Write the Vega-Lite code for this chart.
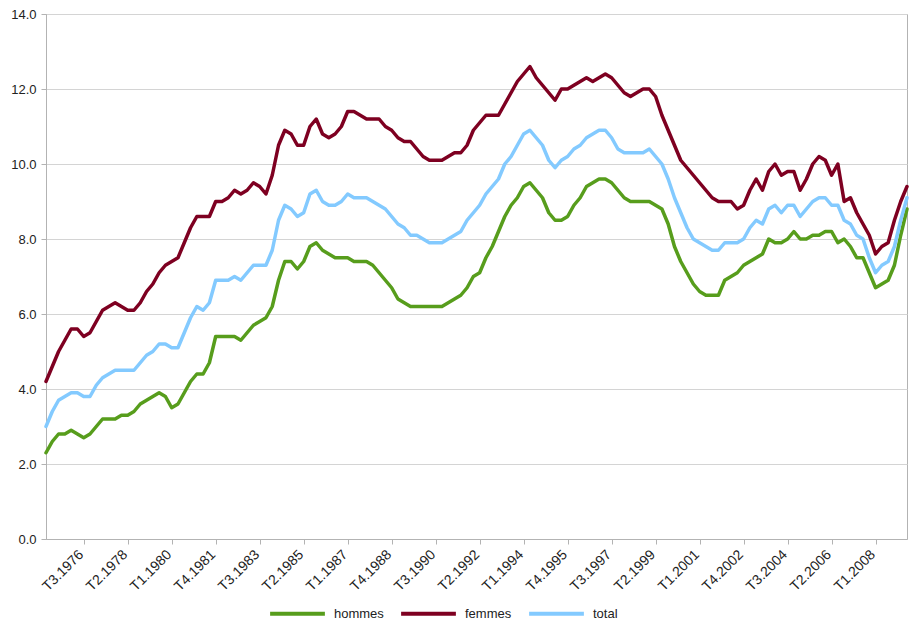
{
  "$schema": "https://vega.github.io/schema/vega-lite/v6.json",
  "width": 861,
  "height": 525,
  "autosize": {"type": "none"},
  "padding": {"left": 46, "top": 14, "right": 6, "bottom": 87},
  "background": "white",
  "data": {
    "values": [
      {"t": "T1.1975", "hommes": 2.3, "femmes": 4.2, "total": 3.0},
      {"t": "T2.1975", "hommes": 2.6, "femmes": 4.6, "total": 3.4},
      {"t": "T3.1975", "hommes": 2.8, "femmes": 5.0, "total": 3.7},
      {"t": "T4.1975", "hommes": 2.8, "femmes": 5.3, "total": 3.8},
      {"t": "T1.1976", "hommes": 2.9, "femmes": 5.6, "total": 3.9},
      {"t": "T2.1976", "hommes": 2.8, "femmes": 5.6, "total": 3.9},
      {"t": "T3.1976", "hommes": 2.7, "femmes": 5.4, "total": 3.8},
      {"t": "T4.1976", "hommes": 2.8, "femmes": 5.5, "total": 3.8},
      {"t": "T1.1977", "hommes": 3.0, "femmes": 5.8, "total": 4.1},
      {"t": "T2.1977", "hommes": 3.2, "femmes": 6.1, "total": 4.3},
      {"t": "T3.1977", "hommes": 3.2, "femmes": 6.2, "total": 4.4},
      {"t": "T4.1977", "hommes": 3.2, "femmes": 6.3, "total": 4.5},
      {"t": "T1.1978", "hommes": 3.3, "femmes": 6.2, "total": 4.5},
      {"t": "T2.1978", "hommes": 3.3, "femmes": 6.1, "total": 4.5},
      {"t": "T3.1978", "hommes": 3.4, "femmes": 6.1, "total": 4.5},
      {"t": "T4.1978", "hommes": 3.6, "femmes": 6.3, "total": 4.7},
      {"t": "T1.1979", "hommes": 3.7, "femmes": 6.6, "total": 4.9},
      {"t": "T2.1979", "hommes": 3.8, "femmes": 6.8, "total": 5.0},
      {"t": "T3.1979", "hommes": 3.9, "femmes": 7.1, "total": 5.2},
      {"t": "T4.1979", "hommes": 3.8, "femmes": 7.3, "total": 5.2},
      {"t": "T1.1980", "hommes": 3.5, "femmes": 7.4, "total": 5.1},
      {"t": "T2.1980", "hommes": 3.6, "femmes": 7.5, "total": 5.1},
      {"t": "T3.1980", "hommes": 3.9, "femmes": 7.9, "total": 5.5},
      {"t": "T4.1980", "hommes": 4.2, "femmes": 8.3, "total": 5.9},
      {"t": "T1.1981", "hommes": 4.4, "femmes": 8.6, "total": 6.2},
      {"t": "T2.1981", "hommes": 4.4, "femmes": 8.6, "total": 6.1},
      {"t": "T3.1981", "hommes": 4.7, "femmes": 8.6, "total": 6.3},
      {"t": "T4.1981", "hommes": 5.4, "femmes": 9.0, "total": 6.9},
      {"t": "T1.1982", "hommes": 5.4, "femmes": 9.0, "total": 6.9},
      {"t": "T2.1982", "hommes": 5.4, "femmes": 9.1, "total": 6.9},
      {"t": "T3.1982", "hommes": 5.4, "femmes": 9.3, "total": 7.0},
      {"t": "T4.1982", "hommes": 5.3, "femmes": 9.2, "total": 6.9},
      {"t": "T1.1983", "hommes": 5.5, "femmes": 9.3, "total": 7.1},
      {"t": "T2.1983", "hommes": 5.7, "femmes": 9.5, "total": 7.3},
      {"t": "T3.1983", "hommes": 5.8, "femmes": 9.4, "total": 7.3},
      {"t": "T4.1983", "hommes": 5.9, "femmes": 9.2, "total": 7.3},
      {"t": "T1.1984", "hommes": 6.2, "femmes": 9.7, "total": 7.7},
      {"t": "T2.1984", "hommes": 6.9, "femmes": 10.5, "total": 8.5},
      {"t": "T3.1984", "hommes": 7.4, "femmes": 10.9, "total": 8.9},
      {"t": "T4.1984", "hommes": 7.4, "femmes": 10.8, "total": 8.8},
      {"t": "T1.1985", "hommes": 7.2, "femmes": 10.5, "total": 8.6},
      {"t": "T2.1985", "hommes": 7.4, "femmes": 10.5, "total": 8.7},
      {"t": "T3.1985", "hommes": 7.8, "femmes": 11.0, "total": 9.2},
      {"t": "T4.1985", "hommes": 7.9, "femmes": 11.2, "total": 9.3},
      {"t": "T1.1986", "hommes": 7.7, "femmes": 10.8, "total": 9.0},
      {"t": "T2.1986", "hommes": 7.6, "femmes": 10.7, "total": 8.9},
      {"t": "T3.1986", "hommes": 7.5, "femmes": 10.8, "total": 8.9},
      {"t": "T4.1986", "hommes": 7.5, "femmes": 11.0, "total": 9.0},
      {"t": "T1.1987", "hommes": 7.5, "femmes": 11.4, "total": 9.2},
      {"t": "T2.1987", "hommes": 7.4, "femmes": 11.4, "total": 9.1},
      {"t": "T3.1987", "hommes": 7.4, "femmes": 11.3, "total": 9.1},
      {"t": "T4.1987", "hommes": 7.4, "femmes": 11.2, "total": 9.1},
      {"t": "T1.1988", "hommes": 7.3, "femmes": 11.2, "total": 9.0},
      {"t": "T2.1988", "hommes": 7.1, "femmes": 11.2, "total": 8.9},
      {"t": "T3.1988", "hommes": 6.9, "femmes": 11.0, "total": 8.8},
      {"t": "T4.1988", "hommes": 6.7, "femmes": 10.9, "total": 8.6},
      {"t": "T1.1989", "hommes": 6.4, "femmes": 10.7, "total": 8.4},
      {"t": "T2.1989", "hommes": 6.3, "femmes": 10.6, "total": 8.3},
      {"t": "T3.1989", "hommes": 6.2, "femmes": 10.6, "total": 8.1},
      {"t": "T4.1989", "hommes": 6.2, "femmes": 10.4, "total": 8.1},
      {"t": "T1.1990", "hommes": 6.2, "femmes": 10.2, "total": 8.0},
      {"t": "T2.1990", "hommes": 6.2, "femmes": 10.1, "total": 7.9},
      {"t": "T3.1990", "hommes": 6.2, "femmes": 10.1, "total": 7.9},
      {"t": "T4.1990", "hommes": 6.2, "femmes": 10.1, "total": 7.9},
      {"t": "T1.1991", "hommes": 6.3, "femmes": 10.2, "total": 8.0},
      {"t": "T2.1991", "hommes": 6.4, "femmes": 10.3, "total": 8.1},
      {"t": "T3.1991", "hommes": 6.5, "femmes": 10.3, "total": 8.2},
      {"t": "T4.1991", "hommes": 6.7, "femmes": 10.5, "total": 8.5},
      {"t": "T1.1992", "hommes": 7.0, "femmes": 10.9, "total": 8.7},
      {"t": "T2.1992", "hommes": 7.1, "femmes": 11.1, "total": 8.9},
      {"t": "T3.1992", "hommes": 7.5, "femmes": 11.3, "total": 9.2},
      {"t": "T4.1992", "hommes": 7.8, "femmes": 11.3, "total": 9.4},
      {"t": "T1.1993", "hommes": 8.2, "femmes": 11.3, "total": 9.6},
      {"t": "T2.1993", "hommes": 8.6, "femmes": 11.6, "total": 10.0},
      {"t": "T3.1993", "hommes": 8.9, "femmes": 11.9, "total": 10.2},
      {"t": "T4.1993", "hommes": 9.1, "femmes": 12.2, "total": 10.5},
      {"t": "T1.1994", "hommes": 9.4, "femmes": 12.4, "total": 10.8},
      {"t": "T2.1994", "hommes": 9.5, "femmes": 12.6, "total": 10.9},
      {"t": "T3.1994", "hommes": 9.3, "femmes": 12.3, "total": 10.7},
      {"t": "T4.1994", "hommes": 9.1, "femmes": 12.1, "total": 10.5},
      {"t": "T1.1995", "hommes": 8.7, "femmes": 11.9, "total": 10.1},
      {"t": "T2.1995", "hommes": 8.5, "femmes": 11.7, "total": 9.9},
      {"t": "T3.1995", "hommes": 8.5, "femmes": 12.0, "total": 10.1},
      {"t": "T4.1995", "hommes": 8.6, "femmes": 12.0, "total": 10.2},
      {"t": "T1.1996", "hommes": 8.9, "femmes": 12.1, "total": 10.4},
      {"t": "T2.1996", "hommes": 9.1, "femmes": 12.2, "total": 10.5},
      {"t": "T3.1996", "hommes": 9.4, "femmes": 12.3, "total": 10.7},
      {"t": "T4.1996", "hommes": 9.5, "femmes": 12.2, "total": 10.8},
      {"t": "T1.1997", "hommes": 9.6, "femmes": 12.3, "total": 10.9},
      {"t": "T2.1997", "hommes": 9.6, "femmes": 12.4, "total": 10.9},
      {"t": "T3.1997", "hommes": 9.5, "femmes": 12.3, "total": 10.7},
      {"t": "T4.1997", "hommes": 9.3, "femmes": 12.1, "total": 10.4},
      {"t": "T1.1998", "hommes": 9.1, "femmes": 11.9, "total": 10.3},
      {"t": "T2.1998", "hommes": 9.0, "femmes": 11.8, "total": 10.3},
      {"t": "T3.1998", "hommes": 9.0, "femmes": 11.9, "total": 10.3},
      {"t": "T4.1998", "hommes": 9.0, "femmes": 12.0, "total": 10.3},
      {"t": "T1.1999", "hommes": 9.0, "femmes": 12.0, "total": 10.4},
      {"t": "T2.1999", "hommes": 8.9, "femmes": 11.8, "total": 10.2},
      {"t": "T3.1999", "hommes": 8.8, "femmes": 11.3, "total": 10.0},
      {"t": "T4.1999", "hommes": 8.4, "femmes": 10.9, "total": 9.6},
      {"t": "T1.2000", "hommes": 7.8, "femmes": 10.5, "total": 9.1},
      {"t": "T2.2000", "hommes": 7.4, "femmes": 10.1, "total": 8.7},
      {"t": "T3.2000", "hommes": 7.1, "femmes": 9.9, "total": 8.3},
      {"t": "T4.2000", "hommes": 6.8, "femmes": 9.7, "total": 8.0},
      {"t": "T1.2001", "hommes": 6.6, "femmes": 9.5, "total": 7.9},
      {"t": "T2.2001", "hommes": 6.5, "femmes": 9.3, "total": 7.8},
      {"t": "T3.2001", "hommes": 6.5, "femmes": 9.1, "total": 7.7},
      {"t": "T4.2001", "hommes": 6.5, "femmes": 9.0, "total": 7.7},
      {"t": "T1.2002", "hommes": 6.9, "femmes": 9.0, "total": 7.9},
      {"t": "T2.2002", "hommes": 7.0, "femmes": 9.0, "total": 7.9},
      {"t": "T3.2002", "hommes": 7.1, "femmes": 8.8, "total": 7.9},
      {"t": "T4.2002", "hommes": 7.3, "femmes": 8.9, "total": 8.0},
      {"t": "T1.2003", "hommes": 7.4, "femmes": 9.3, "total": 8.3},
      {"t": "T2.2003", "hommes": 7.5, "femmes": 9.6, "total": 8.5},
      {"t": "T3.2003", "hommes": 7.6, "femmes": 9.3, "total": 8.4},
      {"t": "T4.2003", "hommes": 8.0, "femmes": 9.8, "total": 8.8},
      {"t": "T1.2004", "hommes": 7.9, "femmes": 10.0, "total": 8.9},
      {"t": "T2.2004", "hommes": 7.9, "femmes": 9.7, "total": 8.7},
      {"t": "T3.2004", "hommes": 8.0, "femmes": 9.8, "total": 8.9},
      {"t": "T4.2004", "hommes": 8.2, "femmes": 9.8, "total": 8.9},
      {"t": "T1.2005", "hommes": 8.0, "femmes": 9.3, "total": 8.6},
      {"t": "T2.2005", "hommes": 8.0, "femmes": 9.6, "total": 8.8},
      {"t": "T3.2005", "hommes": 8.1, "femmes": 10.0, "total": 9.0},
      {"t": "T4.2005", "hommes": 8.1, "femmes": 10.2, "total": 9.1},
      {"t": "T1.2006", "hommes": 8.2, "femmes": 10.1, "total": 9.1},
      {"t": "T2.2006", "hommes": 8.2, "femmes": 9.7, "total": 8.9},
      {"t": "T3.2006", "hommes": 7.9, "femmes": 10.0, "total": 8.9},
      {"t": "T4.2006", "hommes": 8.0, "femmes": 9.0, "total": 8.5},
      {"t": "T1.2007", "hommes": 7.8, "femmes": 9.1, "total": 8.4},
      {"t": "T2.2007", "hommes": 7.5, "femmes": 8.7, "total": 8.1},
      {"t": "T3.2007", "hommes": 7.5, "femmes": 8.4, "total": 8.0},
      {"t": "T4.2007", "hommes": 7.1, "femmes": 8.1, "total": 7.5},
      {"t": "T1.2008", "hommes": 6.7, "femmes": 7.6, "total": 7.1},
      {"t": "T2.2008", "hommes": 6.8, "femmes": 7.8, "total": 7.3},
      {"t": "T3.2008", "hommes": 6.9, "femmes": 7.9, "total": 7.4},
      {"t": "T4.2008", "hommes": 7.3, "femmes": 8.5, "total": 7.8},
      {"t": "T1.2009", "hommes": 8.1, "femmes": 9.0, "total": 8.5},
      {"t": "T2.2009", "hommes": 8.8, "femmes": 9.4, "total": 9.1}
    ]
  },
  "transform": [
    {"fold": ["hommes", "femmes", "total"], "as": ["serie", "taux"]}
  ],
  "mark": {"type": "line", "strokeWidth": 3.5, "strokeJoin": "round", "strokeCap": "round"},
  "encoding": {
    "x": {
      "field": "t",
      "type": "ordinal",
      "sort": null,
      "scale": {"type": "point", "padding": 0},
      "axis": {
        "title": null,
        "values": ["T3.1976", "T2.1978", "T1.1980", "T4.1981", "T3.1983", "T2.1985", "T1.1987", "T4.1988", "T3.1990", "T2.1992", "T1.1994", "T4.1995", "T3.1997", "T2.1999", "T1.2001", "T4.2002", "T3.2004", "T2.2006", "T1.2008"],
        "labelAngle": -45,
        "labelAlign": "right",
        "labelBaseline": "alphabetic",
        "labelPadding": 11,
        "labelFontSize": 14,
        "tickSize": 5,
        "tickColor": "#b3b3b3",
        "domainColor": "#b3b3b3",
        "grid": false
      }
    },
    "y": {
      "field": "taux",
      "type": "quantitative",
      "scale": {"domain": [0, 14], "nice": false},
      "axis": {
        "title": null,
        "values": [0, 2, 4, 6, 8, 10, 12, 14],
        "format": ".1f",
        "tickSize": 5,
        "labelPadding": 5,
        "tickColor": "#b3b3b3",
        "domainColor": "#b3b3b3",
        "gridColor": "#d4d4d4"
      }
    },
    "color": {
      "field": "serie",
      "type": "nominal",
      "sort": ["hommes", "femmes", "total"],
      "scale": {"domain": ["hommes", "femmes", "total"], "range": ["#579d1c", "#7e0021", "#83caff"]},
      "legend": {
        "title": null,
        "orient": "none",
        "direction": "horizontal",
        "legendX": 222,
        "legendY": 570,
        "symbolType": "stroke",
        "symbolSize": 3000,
        "symbolStrokeWidth": 4,
        "labelOffset": 7,
        "columnPadding": 9
      }
    }
  },
  "config": {
    "view": {"stroke": "#b3b3b3"},
    "font": "Liberation Sans",
    "axis": {"labelFont": "Liberation Sans", "labelFontSize": 13, "labelColor": "#222222"},
    "legend": {"labelFont": "Liberation Sans", "labelFontSize": 13, "labelColor": "#222222"}
  }
}
